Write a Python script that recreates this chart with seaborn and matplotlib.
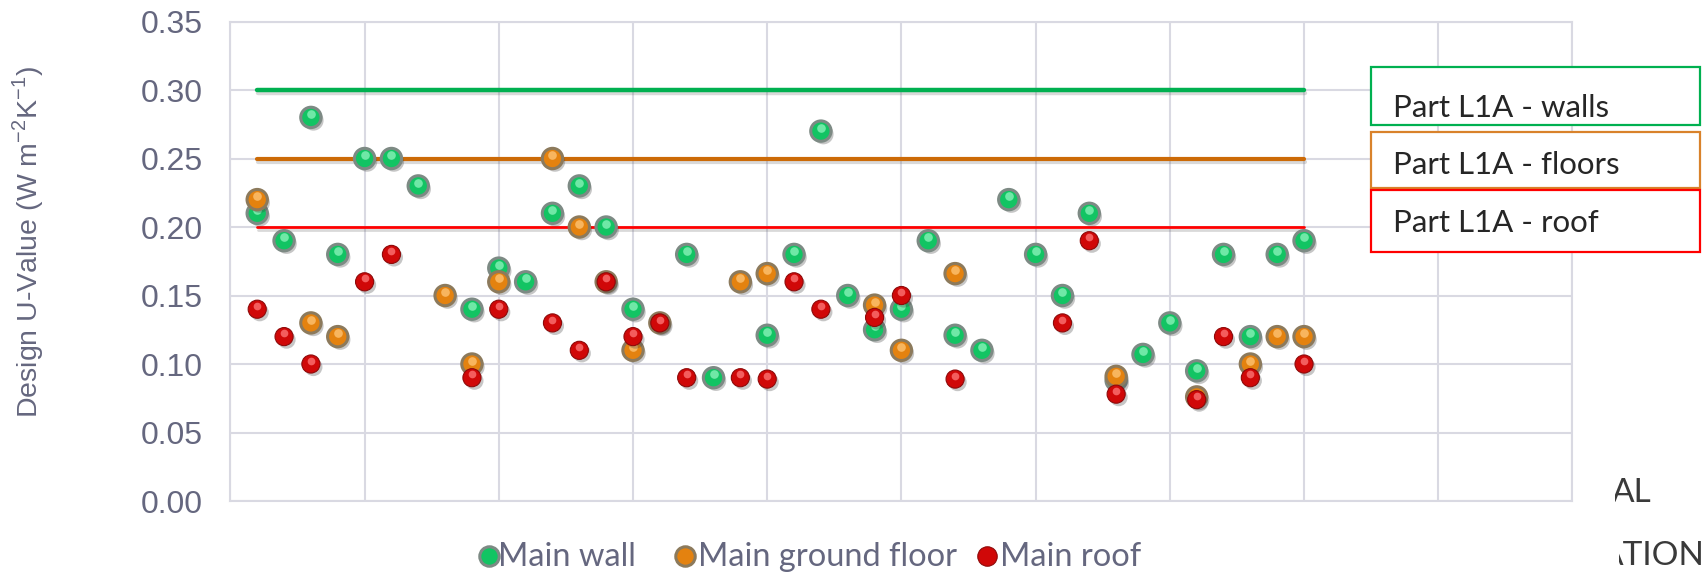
import numpy as np
import pandas as pd
import matplotlib
matplotlib.use("Agg")
import matplotlib.pyplot as plt
import matplotlib.patheffects as pe
from matplotlib.lines import Line2D
from matplotlib.patches import Rectangle
from matplotlib.transforms import Bbox, offset_copy
import seaborn as sns

# ---- data -------------------------------------------------------------
nan = np.nan
building = list(range(1, 41))

main_wall = [0.21, 0.19, 0.28, 0.18, 0.25, 0.25, 0.23, nan, 0.14, 0.17,
             0.16, 0.21, 0.23, 0.20, 0.14, nan, 0.18, 0.09, nan, 0.121,
             0.18, 0.27, 0.15, 0.125, 0.14, 0.19, 0.121, 0.11, 0.22, 0.18,
             0.15, 0.21, 0.088, 0.107, 0.13, 0.095, 0.18, 0.12, 0.18, 0.19]

main_floor = [0.22, nan, 0.13, 0.12, nan, nan, nan, 0.15, 0.10, 0.16,
              nan, 0.25, 0.20, 0.16, 0.11, 0.13, nan, nan, 0.16, 0.166,
              nan, nan, nan, 0.143, 0.11, nan, 0.166, nan, nan, nan,
              nan, nan, 0.091, nan, nan, 0.076, nan, 0.10, 0.12, 0.12]

main_roof = [0.14, 0.12, 0.10, nan, 0.16, 0.18, nan, nan, 0.09, 0.14,
             nan, 0.13, 0.11, 0.16, 0.12, 0.13, 0.09, nan, 0.09, 0.089,
             0.16, 0.14, nan, 0.134, 0.15, nan, 0.089, nan, nan, nan,
             0.13, 0.19, 0.078, nan, nan, 0.074, 0.12, 0.09, nan, 0.10]

series_names = ["Main wall", "Main ground floor", "Main roof"]
limit_labels = ["Part L1A - walls", "Part L1A - floors", "Part L1A - roof"]
limit_values = [0.30, 0.25, 0.20]
y_ticks = [0.00, 0.05, 0.10, 0.15, 0.20, 0.25, 0.30, 0.35]

# ---- styling ------------------------------------------------------------
sns.set_theme(style="white")
plt.rcParams["font.family"] = ["Liberation Sans", "DejaVu Sans"]

slate = "#65677f"
grid_col = "#d9d9e2"
caption_font = ["Lato", "DejaVu Sans"]

ball_face = ["#12c463", "#e4820f", "#d00808"]
ball_edge = ["#7d8a84", "#8c7a5c", "#8e0a0a"]
ball_glow = ["#8ff5bd", "#ffc77a", "#ff7a7a"]
ball_size = [215, 215, 170]
ball_lw = [2.2, 2.2, 0.8]

line_cols = ["#00b050", "#cc6a06", "#ff0000"]
line_widths = [3.2, 3.0, 2.0]
box_edges = ["#00b050", "#d9822b", "#ff0000"]

W, H = 1704.0, 572.0
fig = plt.figure(figsize=(W / 100, H / 100), dpi=100)
ax = fig.add_axes([0.1352, 0.1241, 0.9228 - 0.1352, 0.9624 - 0.1241])

# reference limit lines spanning the surveyed buildings
for val, col, lw in zip(limit_values, line_cols, line_widths):
    ref = pd.DataFrame({"building": [building[0], building[-1]], "u": [val, val]})
    sns.lineplot(data=ref, x="building", y="u", ax=ax, color=col, lw=lw,
                 zorder=3, legend=False,
                 path_effects=[pe.SimpleLineShadow(offset=(0.6, -2.2), alpha=0.22,
                                                   shadow_color="#555555"),
                               pe.Normal()])

# measured U-values per element
frames = []
for name, vals in zip(series_names, [main_wall, main_floor, main_roof]):
    frames.append(pd.DataFrame({"building": building, "u": vals, "element": name}))
df = pd.concat(frames, ignore_index=True).dropna()

for i, name in enumerate(series_names):
    sub = df[df["element"] == name]
    sns.scatterplot(data=sub, x="building", y="u", ax=ax, s=ball_size[i],
                    color=ball_face[i], edgecolor=ball_edge[i], linewidth=ball_lw[i],
                    zorder=4 + i, legend=False,
                    path_effects=[pe.SimplePatchShadow(offset=(1.8, -2.2), alpha=0.3,
                                                       shadow_rgbFace="#444444"),
                                  pe.Normal()])
    # specular highlight on each ball
    hl = offset_copy(ax.transData, fig=fig, x=0, y=2.4, units="points")
    ax.scatter(sub["building"], sub["u"], s=ball_size[i] * 0.18, color=ball_glow[i],
               alpha=0.75, linewidths=0, zorder=4 + i + 0.5, transform=hl)

# axes
ax.set_xlim(0, 50)
ax.set_ylim(0, 0.35)
ax.set_xticks(np.arange(0, 51, 5))
ax.set_xticklabels([])
ax.set_yticks(y_ticks)
ax.set_yticklabels([f"{t:.2f}" for t in y_ticks])
ax.tick_params(axis="both", length=0)
ax.tick_params(axis="y", pad=20, labelsize=23, labelcolor=slate)
ax.set_xlabel("")
ax.grid(True, color=grid_col, lw=1.5)
ax.set_axisbelow(True)
for sp in ax.spines.values():
    sp.set_color(grid_col)
    sp.set_linewidth(1.5)

ax.set_ylabel(r"Design U-Value (W m$^{\mathregular{-2}}$K$^{\mathregular{-1}}$)",
              fontsize=20.5, color=slate)
ax.yaxis.set_label_coords(-0.1376, 0.541)

# limit captions on the right
boxes = [(67, 125, 117), (132, 188, 174), (190, 252, 232)]
for (top, bot, base), lab, ec in zip(boxes, limit_labels, box_edges):
    fig.patches.append(Rectangle((1371 / W, 1 - bot / H), (1700 - 1371) / W, (bot - top) / H,
                                 transform=fig.transFigure, facecolor="white",
                                 edgecolor=ec, lw=1.6, zorder=10))
    fig.text(1393 / W, 1 - base / H, lab, fontsize=22.5, color="#262626",
             family=caption_font, ha="left", va="baseline", zorder=11)

# legend row beneath the plot: marker then label for each element
legend_marker_x = [489, 685, 987]
legend_text_x = [498, 698, 1000]
for i, name in enumerate(series_names):
    fig.add_artist(Line2D([legend_marker_x[i] / W], [1 - 556 / H], ls="", marker="o",
                          markersize=14, markerfacecolor=ball_face[i],
                          markeredgecolor=ball_edge[i], markeredgewidth=ball_lw[i],
                          transform=fig.transFigure))
    fig.text(legend_text_x[i] / W, 1 - 566 / H, name, fontsize=23.5, color=slate,
             family=caption_font, ha="left", va="baseline")

# cropped logo lettering at the lower right
t1 = fig.text(1612 / W, 1 - 502 / H, "AL", fontsize=24, color="#3a3a3a",
              family=caption_font, ha="left", va="baseline")
t2 = fig.text(1601 / W, 1 - 565 / H, "ATION", fontsize=24, color="#3a3a3a",
              family=caption_font, ha="left", va="baseline")
t1.set_clip_box(Bbox.from_extents(1615, 0, 1704, 572))
t2.set_clip_box(Bbox.from_extents(1619, 0, 1704, 572))
for t in (t1, t2):
    t.set_clip_on(True)

fig.savefig("out.png", dpi=100, facecolor="white")
